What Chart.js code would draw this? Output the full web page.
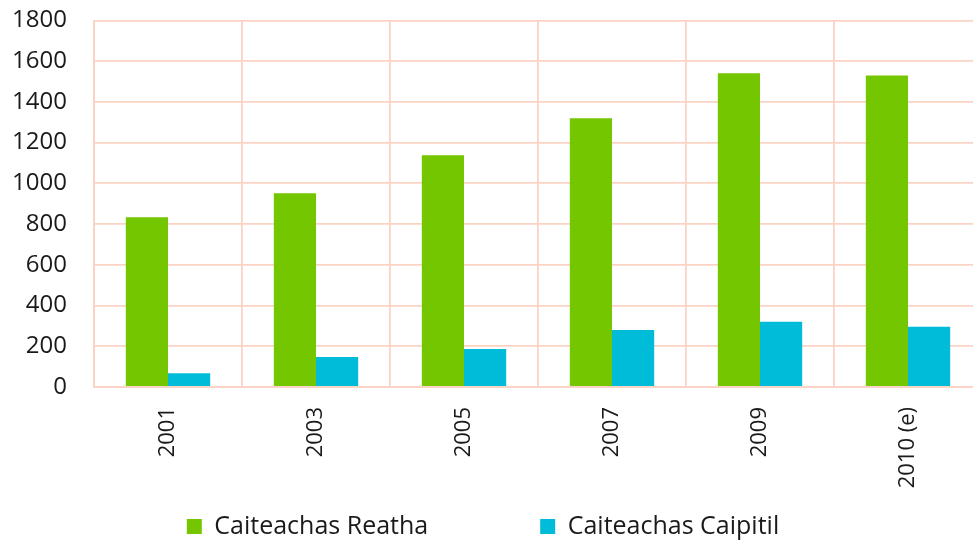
<!DOCTYPE html>
<html><head><meta charset="utf-8">
<script src="https://cdn.jsdelivr.net/npm/chart.js@4"></script>
<style>
html,body{margin:0;padding:0;background:#fff;overflow:hidden;}
#wrap{width:985px;height:563px;position:relative;margin-top:-21px;}
</style></head>
<body><div id="wrap"><canvas id="c"></canvas></div>
<script>
const categories = ['2001','2003','2005','2007','2009','2010 (e)'];
const reatha = [834, 951, 1138, 1319, 1541, 1530];
const caipitil = [67, 147, 186, 280, 320, 296];
const yTicks = [0,200,400,600,800,1000,1200,1400,1600,1800];

const gridColor = '#fbd3c5';
const FONT = 'Open Sans';
const SHIFT = 21;

const legendFix = {
  id: 'legendFix',
  afterInit(chart) {
    const lg = chart.legend;
    const origFit = lg.fit.bind(lg);
    lg.fit = function () { origFit(); this.height = 40; };
    const origDraw = lg.draw.bind(lg);
    lg.draw = function () {
      const st = this.top, sl = this.left, sr = this.right;
      const pad = this.options.labels.padding;
      this.top = 514 + SHIFT - pad;
      this.left -= 8; this.right -= 8;
      origDraw();
      this.top = st; this.left = sl; this.right = sr;
    };
  }
};

new Chart(document.getElementById('c'), {
  type: 'bar',
  data: {
    labels: categories,
    datasets: [
      {label: 'Caiteachas Reatha', data: reatha, backgroundColor: '#74c700'},
      {label: 'Caiteachas Caipitil', data: caipitil, backgroundColor: '#00bcd8'}
    ]
  },
  plugins: [legendFix],
  options: {
    responsive: true, maintainAspectRatio: false, animation: false,
    layout: {padding: {left: 0, top: 0, right: 3, bottom: 0}},
    datasets: {bar: {categoryPercentage: 0.57, barPercentage: 1.0}},
    plugins: {
      tooltip: {enabled: false},
      legend: {
        position: 'bottom',
        labels: {font: {family: FONT, size: 25}, color: '#1a1a1a', boxWidth: 15, boxHeight: 15, padding: 112}
      }
    },
    scales: {
      x: {
        afterFit: ax => { ax.height = 115; },
        grid: {color: gridColor, lineWidth: 1.8, drawTicks: false},
        border: {color: gridColor, width: 1.8},
        ticks: {font: {family: FONT, size: 22}, color: '#1a1a1a', maxRotation: 90, minRotation: 90, padding: 20}
      },
      y: {
        min: 0, max: 1800,
        afterFit: ax => { ax.width = 94; },
        afterBuildTicks: ax => { ax.ticks = yTicks.map(v => ({value: v})); },
        grid: {color: gridColor, lineWidth: 1.8, drawTicks: false},
        border: {color: gridColor, width: 1.8},
        ticks: {font: {family: FONT, size: 24}, color: '#1a1a1a', padding: 27, callback: v => String(v)}
      }
    }
  }
});
</script></body></html>
